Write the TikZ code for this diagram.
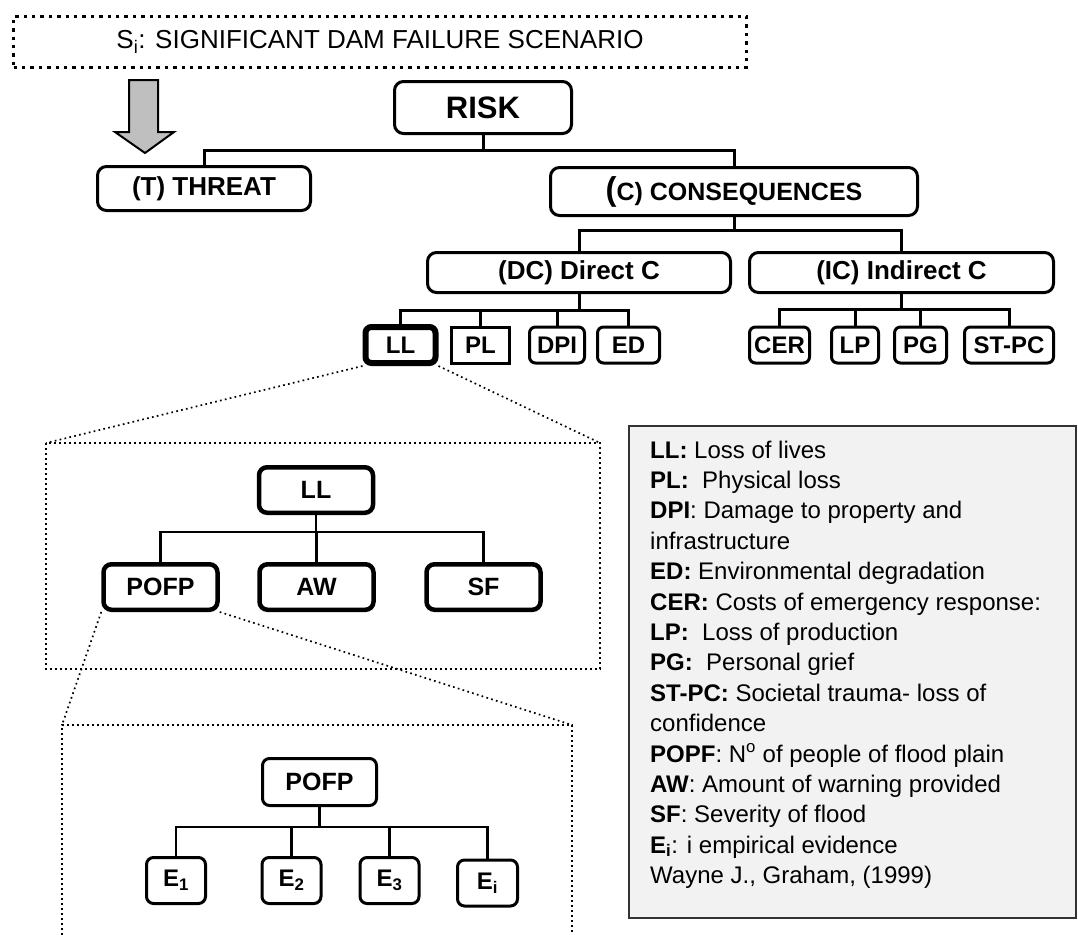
\documentclass[tikz,border=0pt]{standalone}
\usepackage{fontspec}
\setmainfont{Liberation Sans}
\definecolor{legfill}{HTML}{F2F2F2}
\definecolor{legline}{HTML}{333333}
\definecolor{arrgray}{HTML}{BFBFBF}
\begin{document}
\begin{tikzpicture}[x=1pt,y=-1pt,
  box/.style={draw, line width=3pt, rounded corners=9pt, inner sep=0pt,
    font=\fontsize{26}{30}\selectfont\bfseries},
  sbox/.style={draw, line width=3pt, rounded corners=6pt, inner sep=0pt,
    minimum height=36pt, font=\fontsize{24}{28}\selectfont\bfseries},
  zbox/.style={draw, line width=4.5pt, rounded corners=8pt, inner sep=0pt,
    minimum width=114pt, minimum height=45.5pt, font=\fontsize{25}{28}\selectfont\bfseries},
  ebox/.style={draw, line width=3pt, rounded corners=7pt, inner sep=0pt,
    minimum width=59pt, minimum height=46pt, font=\fontsize{24}{28}\selectfont\bfseries},
  conn/.style={line width=3pt},
  thinconn/.style={line width=2.5pt},
  dots/.style={line width=1.7pt, dash pattern=on 1.7pt off 3.3pt},
  leg/.style={inner sep=0pt, font=\fontsize{24}{28}\selectfont},
]
\useasboundingbox (0,0) rectangle (1078,934);

% scenario box
\node[draw, line width=3.5pt, dash pattern=on 3.4pt off 5pt, minimum width=733pt,
  minimum height=51pt, inner sep=0pt, font=\fontsize{26}{30}\selectfont]
  (scen) at (380,42) {S\textsubscript{i}: SIGNIFICANT DAM FAILURE SCENARIO};

% gray block arrow
\draw[line width=2pt, fill=arrgray, line join=miter]
  (129,80) -- (158,80) -- (158,132) -- (174,132) -- (145,153) -- (115,132) -- (129,132) -- cycle;

% top level
\node[box, minimum width=177pt, minimum height=52pt, font=\fontsize{31}{34}\selectfont\bfseries]
  (risk) at (483,107.5) {RISK};
\node[box, minimum width=213pt, minimum height=44pt] (threat) at (204,188.5) {(T) THREAT};
\node[box, minimum width=367pt, minimum height=48pt, font=\fontsize{25}{30}\selectfont\bfseries]
  (cons) at (734,191.5) {{\fontsize{33}{34}\selectfont(}C) CONSEQUENCES};
\node[box, minimum width=303pt, minimum height=40pt] (dc) at (579,272.5) {(DC) Direct C};
\node[box, minimum width=304pt, minimum height=40pt] (ic) at (901.5,272.5) {(IC) Indirect C};

% third level
\node[sbox, line width=6pt, minimum width=70pt] (ll) at (400.5,345) {LL};
\node[sbox, rounded corners=0pt, minimum width=58pt] (pl) at (480.5,345) {PL};
\node[sbox, minimum width=55pt] (dpi) at (557,345) {DPI};
\node[sbox, minimum width=62pt] (ed) at (628.5,345) {ED};
\node[sbox, minimum width=60pt] (cer) at (779.5,345) {CER};
\node[sbox, minimum width=47pt] (lp) at (855,345) {LP};
\node[sbox, minimum width=52pt] (pg) at (920.5,345) {PG};
\node[sbox, minimum width=89pt] (stpc) at (1009,345) {ST-PC};

% bus levels
\coordinate (b1) at (0,150);
\coordinate (b2) at (0,230);
\coordinate (b3) at (0,310);
\coordinate (b4) at (0,309);
\coordinate (b5) at (0,532);
\coordinate (b6) at (0,827);

\draw[conn] (risk.south) -- (risk.south |- b1);
\draw[conn] (threat.north) -- (threat.north |- b1) -- (cons.north |- b1) -- (cons.north);
\draw[conn] (cons.south) -- (cons.south |- b2);
\draw[conn] (dc.north) -- (dc.north |- b2) -- (ic.north |- b2) -- (ic.north);
\draw[conn] (dc.south) -- (dc.south |- b3);
\draw[conn] (ll.north) -- (ll.north |- b3) -- (ed.north |- b3) -- (ed.north);
\draw[conn] (pl.north) -- (pl.north |- b3);
\draw[conn] (dpi.north) -- (dpi.north |- b3);
\draw[conn] (ic.south) -- (ic.south |- b4);
\draw[conn] (cer.north) -- (cer.north |- b4) -- (stpc.north |- b4) -- (stpc.north);
\draw[conn] (lp.north) -- (lp.north |- b4);
\draw[conn] (pg.north) -- (pg.north |- b4);

% first zoom frame
\coordinate (f1a) at (46,443);
\coordinate (f1b) at (600,443);
\coordinate (f1c) at (600,669);
\draw[dots] (ll.south west) -- (f1a);
\draw[dots] (ll.south east) -- (f1b);
\draw[dots] (f1a) rectangle (f1c);

\node[zbox] (ll2) at (316,490) {LL};
\node[zbox] (pofp) at (160.5,587) {POFP};
\node[zbox] (aw) at (316.5,587) {AW};
\node[zbox] (sf) at (483.5,587) {SF};
\draw[thinconn] (ll2.south) -- (ll2.south |- b5);
\draw[thinconn] (pofp.north) -- (pofp.north |- b5) -- (sf.north |- b5) -- (sf.north);
\draw[thinconn] (aw.north) -- (aw.north |- b5);

% second zoom frame
\coordinate (f2a) at (62,725);
\coordinate (f2b) at (572,725);
\coordinate (f2c) at (572,940);
\coordinate (f2d) at (62,940);
\draw[dots] (pofp.south west) -- (f2a);
\draw[dots] (pofp.south east) -- (f2b);
\draw[dots] (f2d) -- (f2a) -- (f2b) -- (f2c);

\node[ebox, minimum width=114pt, minimum height=47pt, font=\fontsize{25}{28}\selectfont\bfseries]
  (pofp2) at (319.5,782) {POFP};
\node[ebox] (e1) at (176,880.5) {E\textsubscript{1}};
\node[ebox] (e2) at (291.5,880.5) {E\textsubscript{2}};
\node[ebox] (e3) at (389.5,880.5) {E\textsubscript{3}};
\node[ebox, minimum width=60pt] (ei) at (487.5,883) {E\textsubscript{i}};
\draw[thinconn] (pofp2.south) -- (pofp2.south |- b6);
\draw[thinconn] (e1.north) -- (e1.north |- b6) -- (ei.north |- b6) -- (ei.north);
\draw[thinconn] (e2.north) -- (e2.north |- b6);
\draw[thinconn] (e3.north) -- (e3.north |- b6);

% legend
\draw[line width=1.8pt, draw=legline, fill=legfill] (629,426) rectangle (1076,918);
\foreach \t [count=\i] in {
  {\textbf{LL:} Loss of lives},
  {\textbf{PL:}\ \ Physical loss},
  {\textbf{DPI}: Damage to property and},
  {infrastructure},
  {\textbf{ED:} Environmental degradation},
  {\textbf{CER:} Costs of emergency response:},
  {\textbf{LP:}\ \ Loss of production},
  {\textbf{PG:}\ \ Personal grief},
  {\textbf{ST-PC:} Societal trauma- loss of},
  {confidence},
  {\textbf{POPF}: N\textsuperscript{o} of people of flood plain},
  {\textbf{AW}: Amount of warning provided},
  {\textbf{SF}: Severity of flood},
  {\textbf{E\textsubscript{i}}: i empirical evidence},
  {Wayne J., Graham, (1999)}}
  \node[leg, anchor=base west] (leg\i) at (650,{458+30.4*(\i-1)}) {\t};
\end{tikzpicture}
\end{document}
